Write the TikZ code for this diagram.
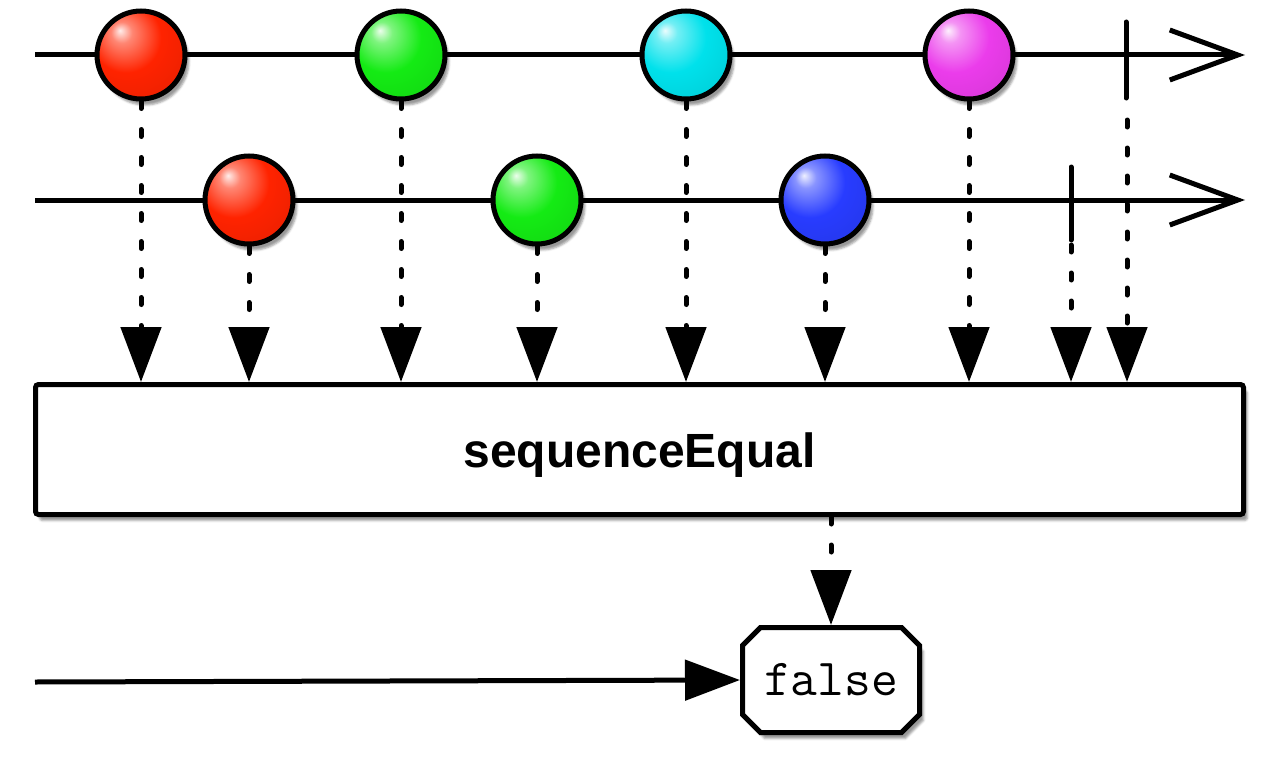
\documentclass[tikz,border=0pt]{standalone}
\usepackage{fontspec}
\setmainfont{Liberation Sans}
\usetikzlibrary{arrows.meta,shapes.misc,shadows.blur}
\definecolor{ballred}{RGB}{255,35,0}
\definecolor{ballgreen}{RGB}{20,235,20}
\definecolor{ballcyan}{RGB}{0,225,235}
\definecolor{ballmagenta}{RGB}{235,60,235}
\definecolor{ballblue}{RGB}{40,60,255}
\colorlet{marblecol}{red}
\pgfdeclareradialshading[marblecol]{marble}{\pgfpoint{-12bp}{14bp}}{%
  color(0bp)=(marblecol!8!white); color(6bp)=(marblecol!55!white);
  color(20bp)=(marblecol); color(38bp)=(marblecol!92!black);
  color(52bp)=(marblecol!62!black); color(70bp)=(marblecol!50!black)}

\begin{document}
\begin{tikzpicture}[x=1pt,y=-1pt,
  timeline/.style={line width=5pt,-{Straight Barb[length=68pt,width=50pt]}},
  marble/.style={circle,draw,line width=5pt,minimum size=88pt,inner sep=0pt,
    /utils/exec={\colorlet{marblecol}{#1}},shading=marble,
    blur shadow={shadow xshift=4pt,shadow yshift=-6pt,shadow opacity=40}},
  done/.style={line width=5pt,line cap=round},
  drop/.style={line width=5pt,line cap=round,dash pattern=on 7pt off 21pt,
    -{Triangle[length=55pt,width=40pt]}}]
\useasboundingbox (0,0) rectangle (1280,760);

% source sequences
\draw [timeline] (35,55) -- (1245,55);
\draw [timeline] (35,200) -- (1245,200);
\draw [done] (1126,22) -- (1126,98); \coordinate (end1) at (1127,120);
\draw [done] (1071,167) -- (1071,240); \coordinate (end2) at (1071,245);

\node [marble=ballred] (a1) at (141,55) {};
\node [marble=ballgreen] (a2) at (401,55) {};
\node [marble=ballcyan] (a3) at (686,55) {};
\node [marble=ballmagenta] (a4) at (969,55) {};
\node [marble=ballred] (b1) at (249,200) {};
\node [marble=ballgreen] (b2) at (537,200) {};
\node [marble=ballblue] (b3) at (825,200) {};

% operator box
\node [draw,line width=5pt,rounded corners=3pt,fill=white,minimum width=1208pt,minimum height=130pt,
  blur shadow={shadow xshift=4pt,shadow yshift=-6pt,shadow opacity=40}] (seq) at (639.5,449.5) {};
\node [font=\fontsize{48}{56}\selectfont\bfseries,yshift=-6pt] (seqlabel) at (seq.center) {sequenceEqual};

\draw [drop] (a1.south) -- (a1.south |- seq.north);
\draw [drop] (b1.south) -- (b1.south |- seq.north);
\draw [drop] (a2.south) -- (a2.south |- seq.north);
\draw [drop] (b2.south) -- (b2.south |- seq.north);
\draw [drop] (a3.south) -- (a3.south |- seq.north);
\draw [drop] (b3.south) -- (b3.south |- seq.north);
\draw [drop] (a4.south) -- (a4.south |- seq.north);
\draw [drop] (end2) -- (end2 |- seq.north);
\draw [drop] (end1) -- (end1 |- seq.north);

% result
\node [draw,line width=5pt,fill=white,chamfered rectangle,chamfered rectangle xsep=9pt,chamfered rectangle ysep=9pt,
  minimum width=177pt,minimum height=105pt,inner sep=0pt,
  blur shadow={shadow xshift=4pt,shadow yshift=-6pt,shadow opacity=40}] (res) at (831,680)
  {\fontsize{52}{56}\selectfont\ttfamily false};
\draw [drop] (res.north |- seq.south) -- (res.north);
\coordinate (start) at (35,682);
\draw [line width=5pt,-{Triangle[length=55pt,width=40pt]}] (start) -- (res.west);

\end{tikzpicture}
\end{document}
